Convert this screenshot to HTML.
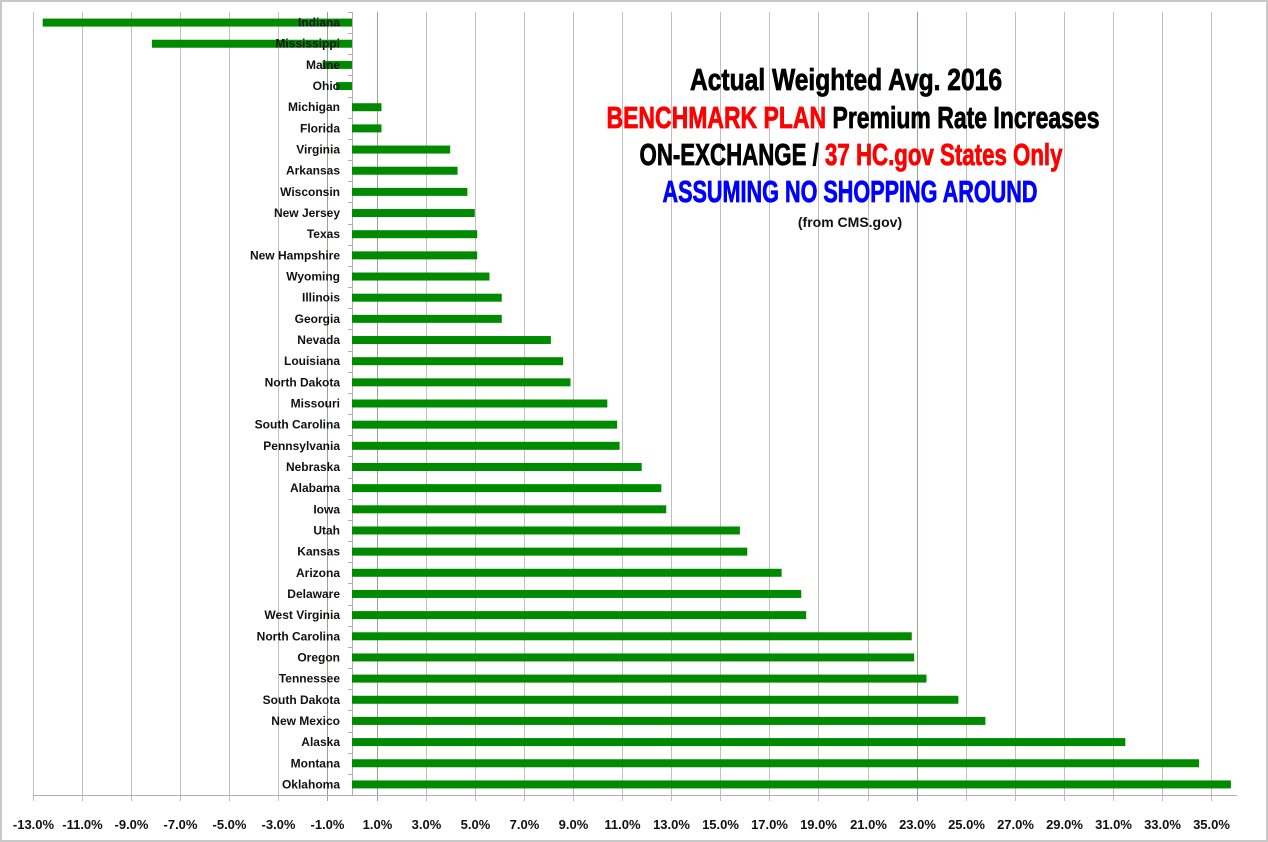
<!DOCTYPE html>
<html><head><meta charset="utf-8"><style>
html,body{margin:0;padding:0;background:#fff;}
svg{display:block;}
</style></head><body>
<svg width="1268" height="842" viewBox="0 0 1268 842" xmlns="http://www.w3.org/2000/svg">
<rect x="1" y="1" width="1266" height="840" fill="#fff" stroke="#c8c8c8" stroke-width="2"/>
<g id="grid" stroke="#c0c0c0" stroke-width="1"></g>
<g id="bars"></g>
<g id="labels" font-family="'Liberation Sans Narrow','Liberation Sans',sans-serif" font-weight="bold" font-size="12" fill="#111" text-anchor="end"></g>
<g id="xl" font-family="'Liberation Sans Narrow','Liberation Sans',sans-serif" font-weight="bold" font-size="13" fill="#111" text-anchor="middle"></g>
<g font-family="'Liberation Sans Narrow','Liberation Sans',sans-serif" font-weight="bold" text-anchor="middle" stroke-width="0.8">
<text x="846" y="90" font-size="31" textLength="312" lengthAdjust="spacingAndGlyphs" fill="#000" stroke="#000">Actual Weighted Avg. 2016</text>
<text x="853" y="128" font-size="31" textLength="493" lengthAdjust="spacingAndGlyphs"><tspan fill="#f00" stroke="#f00">BENCHMARK PLAN</tspan><tspan fill="#000" stroke="#000"> Premium Rate Increases</tspan></text>
<text x="851" y="165" font-size="31" textLength="423" lengthAdjust="spacingAndGlyphs"><tspan fill="#000" stroke="#000">ON-EXCHANGE / </tspan><tspan fill="#f00" stroke="#f00">37 HC.gov States Only</tspan></text>
<text x="850" y="202" font-size="31" textLength="375" lengthAdjust="spacingAndGlyphs" fill="#00f" stroke="#00f">ASSUMING NO SHOPPING AROUND</text>
</g>
<text x="850" y="227" font-family="'Liberation Sans',sans-serif" font-weight="bold" font-size="14" text-anchor="middle" fill="#111">(from CMS.gov)</text>
</svg>
<script>
(function(){
const d=[["Indiana",-12.6],["Mississippi",-8.15],["Maine",-1.2],["Ohio",-0.65],["Michigan",1.2],["Florida",1.2],["Virginia",4.0],["Arkansas",4.3],["Wisconsin",4.7],["New Jersey",5.0],["Texas",5.1],["New Hampshire",5.1],["Wyoming",5.6],["Illinois",6.1],["Georgia",6.1],["Nevada",8.1],["Louisiana",8.6],["North Dakota",8.9],["Missouri",10.4],["South Carolina",10.8],["Pennsylvania",10.9],["Nebraska",11.8],["Alabama",12.6],["Iowa",12.8],["Utah",15.8],["Kansas",16.1],["Arizona",17.5],["Delaware",18.3],["West Virginia",18.5],["North Carolina",22.8],["Oregon",22.9],["Tennessee",23.4],["South Dakota",24.7],["New Mexico",25.8],["Alaska",31.5],["Montana",34.5],["Oklahoma",35.8]];
const NS="http://www.w3.org/2000/svg";
const z=352,k=24.55,T0=12,B0=795,band=(B0-T0)/37;
function el(p,t,a,txt){const e=document.createElementNS(NS,t);for(const i in a)e.setAttribute(i,a[i]);if(txt)e.textContent=txt;document.getElementById(p).appendChild(e);}
for(let v=-13;v<=35;v+=2){const x=Math.round(z+v*k)+0.5;el("grid","line",{x1:x,x2:x,y1:T0,y2:B0+6,stroke:(v===-1||v===1||v===23)?"#90a890":"#c0c0c0"});el("xl","text",{x:x,y:829},v.toFixed(1)+"%");}
el("grid","line",{x1:33,x2:1237,y1:B0+0.5,y2:B0+0.5,stroke:"#b0b0b0"});
el("grid","line",{x1:z+0.5,x2:z+0.5,y1:T0,y2:B0,stroke:"#b0b0b0"});
for(let i=0;i<=37;i++){const y=Math.round(T0+i*band)+0.5;el("grid","line",{x1:z-4,x2:z,y1:y,y2:y,stroke:"#b0b0b0"});}
d.forEach(function(r,i){const cy=T0+band*(i+0.5);const x0=z,x1=z+r[1]*k;el("bars","rect",{x:Math.min(x0,x1),y:cy-4,width:Math.abs(x1-x0),height:8,fill:"#008a00"});el("labels","text",{x:340,y:cy+4},r[0]);});
})();
</script>
</body></html>
